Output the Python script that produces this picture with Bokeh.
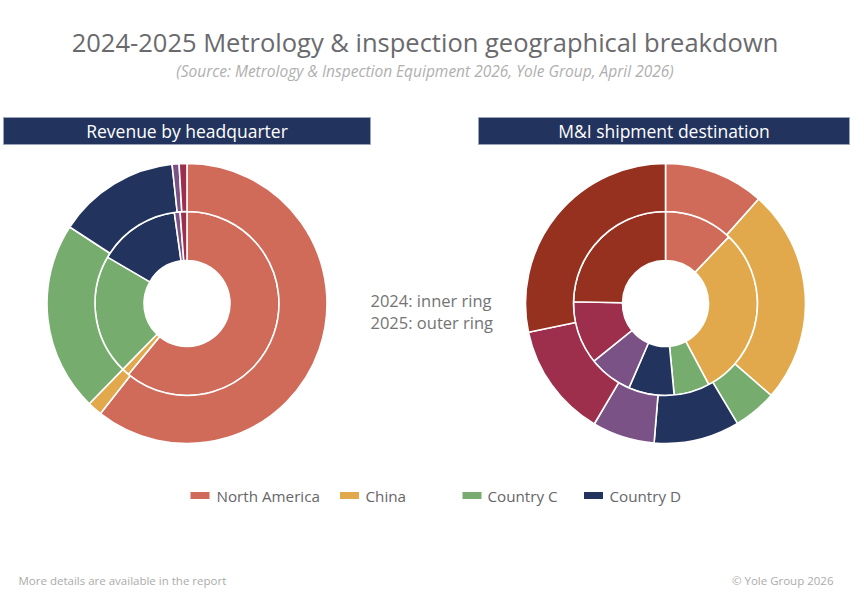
import numpy as np
from bokeh.plotting import figure
from bokeh.models import Range1d, ColumnDataSource
from bokeh.core.properties import value
from bokeh.embed import file_html
from bokeh.resources import INLINE

# ---- data -------------------------------------------------------------
regions = ["North America", "China", "Country C", "Country D",
           "Country E", "Country F", "Country G"]
region_colors = ["#D06B5A", "#E2A94C", "#76AD6E", "#22335E",
                 "#7B5286", "#9E2F4C", "#96301F"]

# Revenue by headquarter (%)
hq_2024 = [61.0, 1.3, 21.1, 14.4, 1.0, 1.2, 0.0]
hq_2025 = [60.6, 1.7, 21.9, 14.1, 0.8, 0.9, 0.0]

# M&I shipment destination (%)
dest_2024 = [12.1, 30.1, 6.3, 8.0, 7.7, 11.1, 24.7]
dest_2025 = [11.6, 24.8, 5.0, 9.9, 7.2, 13.2, 28.3]

legend_regions = regions[:4]
legend_colors = region_colors[:4]

title = "2024-2025 Metrology & inspection geographical breakdown"
subtitle = "(Source: Metrology & Inspection Equipment 2026, Yole Group, April 2026)"
panel_titles = ["Revenue by headquarter", "M&I shipment destination"]
ring_note = ["2024: inner ring", "2025: outer ring"]
footer_left = "More details are available in the report"
footer_right = "\u00a9 Yole Group 2026"

# ---- canvas -----------------------------------------------------------
W, H = 864, 601
FONT = "Open Sans"


def Y(y):
    """Convert a top-down page coordinate to the plot's y axis."""
    return H - y


p = figure(width=W, height=H, output_backend="svg", toolbar_location=None,
           x_axis_location=None, y_axis_location=None, min_border=0,
           x_range=Range1d(0, W), y_range=Range1d(0, H))
p.grid.visible = False
p.outline_line_color = None
p.background_fill_color = "white"
p.border_fill_color = "white"


def ring(cx, cy, shares, r_in, r_out):
    s = np.asarray(shares, dtype=float)
    frac = s / s.sum()
    ends = np.cumsum(frac) * 2 * np.pi
    starts = ends - frac * 2 * np.pi
    keep = frac > 0
    src = ColumnDataSource(dict(
        start=(np.pi / 2 - starts)[keep],
        end=(np.pi / 2 - ends)[keep],
        color=np.array(region_colors)[keep],
        region=np.array(regions)[keep],
    ))
    p.annular_wedge(x=cx, y=cy, inner_radius=r_in, outer_radius=r_out,
                    start_angle="start", end_angle="end", direction="clock",
                    fill_color="color", line_color="white", line_width=1.6,
                    source=src)


R_HOLE, R_MID, R_OUT = 43, 92, 140
centers = [(186.5, Y(303)), (665, Y(303))]

ring(*centers[0], hq_2024, R_HOLE, R_MID)
ring(*centers[0], hq_2025, R_MID, R_OUT)
ring(*centers[1], dest_2024, R_HOLE, R_MID)
ring(*centers[1], dest_2025, R_MID, R_OUT)

# ---- titles -----------------------------------------------------------
p.text(x=[424.5], y=[Y(41)], text=[title], text_font=value(FONT),
       text_font_size="25.5px", text_color="#6A6A6E", text_align="center",
       text_baseline="middle")
p.text(x=[424.5], y=[Y(70)], text=[subtitle], text_font=value(FONT),
       text_font_size="15.5px", text_font_style="italic", text_color="#AFAFAF",
       text_align="center", text_baseline="middle")

# panel header bars
bars_left = [3, 478]
bars_right = [370, 849]
p.quad(left=bars_left, right=bars_right, top=Y(117), bottom=Y(144),
       fill_color="#22335E", line_color="#9AA3BD", line_width=1)
p.text(x=[(l + r) / 2 for l, r in zip(bars_left, bars_right)],
       y=[Y(130.5)] * 2, text=panel_titles, text_font=value(FONT),
       text_font_size="17.5px", text_color="white", text_align="center",
       text_baseline="middle")

# ring explanation between the two donuts
p.text(x=[370, 370], y=[Y(300), Y(322)], text=ring_note, text_font=value(FONT),
       text_font_size="16.5px", text_color="#747474", text_align="left",
       text_baseline="middle")

# ---- legend -----------------------------------------------------------
swatch_x = [199.5, 349, 471.5, 593]
label_x = [216, 365, 487, 609]
p.rect(x=swatch_x, y=[Y(495)] * 4, width=19, height=7,
       fill_color=legend_colors, line_color=None)
p.text(x=label_x, y=[Y(495)] * 4, text=legend_regions, text_font=value(FONT),
       text_font_size="15.2px", text_color="#66666A", text_align="left",
       text_baseline="middle")

# ---- footer -----------------------------------------------------------
p.text(x=[18], y=[Y(580)], text=[footer_left], text_font=value(FONT),
       text_font_size="11.5px", text_color="#ABABAB", text_align="left",
       text_baseline="middle")
p.text(x=[833], y=[Y(580)], text=[footer_right], text_font=value(FONT),
       text_font_size="11.5px", text_color="#ABABAB", text_align="right",
       text_baseline="middle")

open("out.html", "w").write(file_html(p, INLINE))
